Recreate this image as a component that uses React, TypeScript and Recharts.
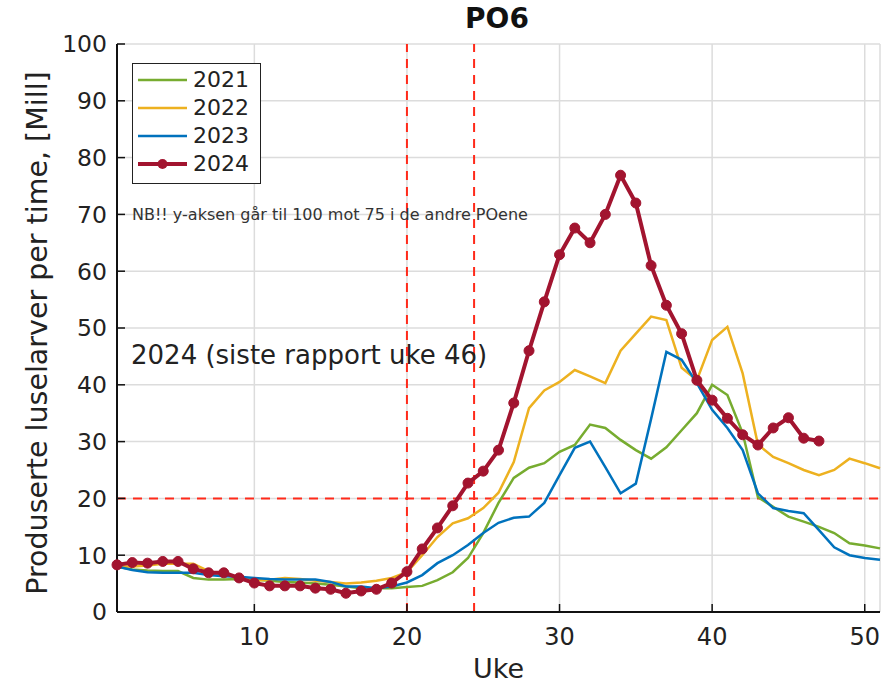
import React from 'react';
import { LineChart, Line, XAxis, YAxis, CartesianGrid, ReferenceLine, Legend } from 'recharts';

const weeks = [1, 2, 3, 4, 5, 6, 7, 8, 9, 10, 11, 12, 13, 14, 15, 16, 17, 18, 19, 20, 21, 22, 23, 24, 25, 26, 27, 28, 29, 30, 31, 32, 33, 34, 35, 36, 37, 38, 39, 40, 41, 42, 43, 44, 45, 46, 47, 48, 49, 50, 51];

const y2021 = [8, 7.5, 7.3, 7.2, 7.2, 6, 5.7, 5.7, 5.8, 5.7, 5.5, 5.3, 5.2, 5, 4.8, 4.5, 4.2, 4.2, 4.2, 4.4, 4.6, 5.6, 7, 9.5, 13.9, 19.2, 23.6, 25.4, 26.2, 28.2, 29.4, 33, 32.4, 30.3, 28.5, 27, 29, 32, 35, 40, 38.2, 31.5, 20.2, 18.5, 16.8, 15.9, 15, 13.9, 12.1, 11.7, 11.2];
const y2022 = [8, 8, 8.2, 8.5, 8.5, 8.5, 7.2, 6.5, 6.2, 5.5, 5.7, 6, 5.8, 5.5, 5.3, 5, 5.2, 5.5, 6, 7, 10, 13.2, 15.6, 16.5, 18.3, 21, 26.4, 35.9, 39, 40.5, 42.6, 41.5, 40.3, 46, 49, 52, 51.4, 43, 40.8, 47.9, 50.2, 42, 29.5, 27.3, 26.2, 25, 24.1, 25, 27, 26.2, 25.3];
const y2023 = [8, 7.4, 7, 6.9, 6.9, 6.9, 6.5, 6.3, 6.2, 6, 5.8, 5.7, 5.7, 5.7, 5.3, 4.5, 4.5, 4.2, 4.5, 5.2, 6.5, 8.6, 10, 11.8, 13.9, 15.7, 16.6, 16.8, 19.2, 24.1, 28.9, 30, 25.5, 20.9, 22.6, 34, 45.8, 44.4, 40.3, 35.6, 32.4, 28.5, 20.9, 18.3, 17.8, 17.4, 14.4, 11.4, 10, 9.5, 9.2];
const y2024 = [8.3, 8.7, 8.6, 8.9, 8.9, 7.6, 6.9, 6.9, 6, 5.1, 4.6, 4.6, 4.6, 4.2, 4, 3.3, 3.7, 4, 5.1, 7.1, 11.1, 14.8, 18.7, 22.7, 24.8, 28.5, 36.8, 46, 54.6, 62.9, 67.6, 65, 70, 76.9, 72, 61, 54, 49, 40.8, 37.3, 34.1, 31.2, 29.4, 32.4, 34.2, 30.6, 30.1];

const xTicks = [10, 20, 30, 40, 50];
const yTicks = [0, 10, 20, 30, 40, 50, 60, 70, 80, 90, 100];
const markerWeeks = [20, 24.4];
const thresholds = [20];

const series = [
    { key: 'y2021', name: '2021', color: '#77AC30' },
    { key: 'y2022', name: '2022', color: '#EDB120' },
    { key: 'y2023', name: '2023', color: '#0072BD' },
    { key: 'y2024', name: '2024', color: '#A2142F' },
];

const data = weeks.map((w, i) => ({
    week: w,
    y2021: y2021[i],
    y2022: y2022[i],
    y2023: y2023[i],
    y2024: i < y2024.length ? y2024[i] : null,
}));

const FONT = '"DejaVu Sans", sans-serif';

const AxisTick = (props: any) => {
    const { x, y, payload, side, showLabel } = props;
    const len = 8;
    let line;
    let label = null;
    if (side === 'left') {
        line = <line x1={x} y1={y} x2={x + len} y2={y} stroke="#111" strokeWidth={1.5} />;
        if (showLabel) label = <text x={x - 10} y={y} dy="0.36em" textAnchor="end" fontSize={23.5} fill="#222">{payload.value}</text>;
    } else if (side === 'right') {
        line = <line x1={x} y1={y} x2={x - len} y2={y} stroke="#111" strokeWidth={1.5} />;
    } else if (side === 'top') {
        line = <line x1={x} y1={y} x2={x} y2={y + len} stroke="#111" strokeWidth={1.5} />;
    } else {
        line = <line x1={x} y1={y} x2={x} y2={y - len} stroke="#111" strokeWidth={1.5} />;
        if (showLabel) label = <text x={x} y={y + 33} textAnchor="middle" fontSize={24} fill="#222">{payload.value}</text>;
    }
    return <g>{line}{label}</g>;
};

const LegendBox = () => (
    <div style={{ width: 122, border: '1.5px solid #222', background: '#fff', padding: '2px 0 5px 5px', fontFamily: FONT }}>
        {series.map(s => (
            <div key={s.key} style={{ display: 'flex', alignItems: 'center', height: 28 }}>
                <svg width={49} height={14}>
                    <line x1={0} y1={7} x2={49} y2={7} stroke={s.color} strokeWidth={s.key === 'y2024' ? 4 : 2.5} />
                    {s.key === 'y2024' && <circle cx={24.5} cy={7} r={5} fill={s.color} />}
                </svg>
                <span style={{ marginLeft: 6, fontSize: 22, color: '#222', lineHeight: '28px' }}>{s.name}</span>
            </div>
        ))}
    </div>
);

const App: React.FC = () => {
    return (
        <div style={{ position: 'absolute', left: 0, top: 0, width: 893, height: 684, background: '#fff', fontFamily: FONT }}>
            <div style={{ position: 'absolute', left: 397, top: 2, width: 200, textAlign: 'center', fontSize: 28, fontWeight: 'bold', color: '#111' }}>PO6</div>
            <div style={{ position: 'absolute', left: 37, top: 333, transform: 'translate(-50%, -50%) rotate(-90deg)', whiteSpace: 'nowrap', fontSize: 28.5, color: '#222' }}>
                Produserte luselarver per time, [Mill]
            </div>
            <LineChart width={893} height={684} data={data} margin={{ top: 44, right: 13, left: 0, bottom: 0 }} style={{ fontFamily: FONT }}>
                <CartesianGrid stroke="#dcdcdc" strokeWidth={1.5} />
                <XAxis dataKey="week" type="number" domain={[1, 51]} ticks={xTicks} interval={0} height={72}
                    axisLine={{ stroke: '#111', strokeWidth: 2 }} tickLine={false} tickSize={0} tickMargin={0}
                    tick={<AxisTick side="bottom" showLabel />}
                    label={{ value: 'Uke', position: 'insideBottom', offset: 6, fontSize: 27, fill: '#222' }} />
                <XAxis xAxisId="top" orientation="top" dataKey="week" type="number" domain={[1, 51]} ticks={xTicks} interval={0} height={0}
                    axisLine={{ stroke: '#111', strokeWidth: 2 }} tickLine={false} tickSize={0} tickMargin={0}
                    tick={<AxisTick side="top" />} />
                <YAxis type="number" domain={[0, 100]} ticks={yTicks} interval={0} width={117}
                    axisLine={{ stroke: '#111', strokeWidth: 2 }} tickLine={false} tickSize={0} tickMargin={0}
                    tick={<AxisTick side="left" showLabel />} />
                <YAxis yAxisId="right" orientation="right" type="number" domain={[0, 100]} ticks={yTicks} interval={0} width={0}
                    axisLine={{ stroke: '#111', strokeWidth: 2 }} tickLine={false} tickSize={0} tickMargin={0}
                    tick={<AxisTick side="right" />} />
                {markerWeeks.map(w => (
                    <ReferenceLine key={`v${w}`} x={w} stroke="#ff2a1a" strokeWidth={2} strokeDasharray="9 7" />
                ))}
                {thresholds.map(t => (
                    <ReferenceLine key={`h${t}`} y={t} stroke="#ff2a1a" strokeWidth={2} strokeDasharray="9 7" />
                ))}
                {series.map(s => (
                    <Line key={s.key} type="linear" dataKey={s.key} name={s.name} stroke={s.color}
                        strokeWidth={s.key === 'y2024' ? 4 : 2.5}
                        dot={s.key === 'y2024' ? { r: 5, fill: s.color, stroke: s.color, strokeWidth: 1 } : false}
                        activeDot={false} connectNulls={false} isAnimationActive={false} />
                ))}
                <Legend layout="vertical" align="center" verticalAlign="middle" content={<LegendBox />}
                    wrapperStyle={{ position: 'absolute', left: 132, top: 63, width: 'auto', height: 'auto' }} />
            </LineChart>
            <div style={{ position: 'absolute', left: 132, top: 205, fontSize: 16, color: '#333', whiteSpace: 'nowrap' }}>
                NB!! y-aksen går til 100 mot 75 i de andre POene
            </div>
            <div style={{ position: 'absolute', left: 131, top: 340, fontSize: 26, color: '#222', whiteSpace: 'nowrap' }}>
                2024 (siste rapport uke 46)
            </div>
        </div>
    );
};

export default App;
